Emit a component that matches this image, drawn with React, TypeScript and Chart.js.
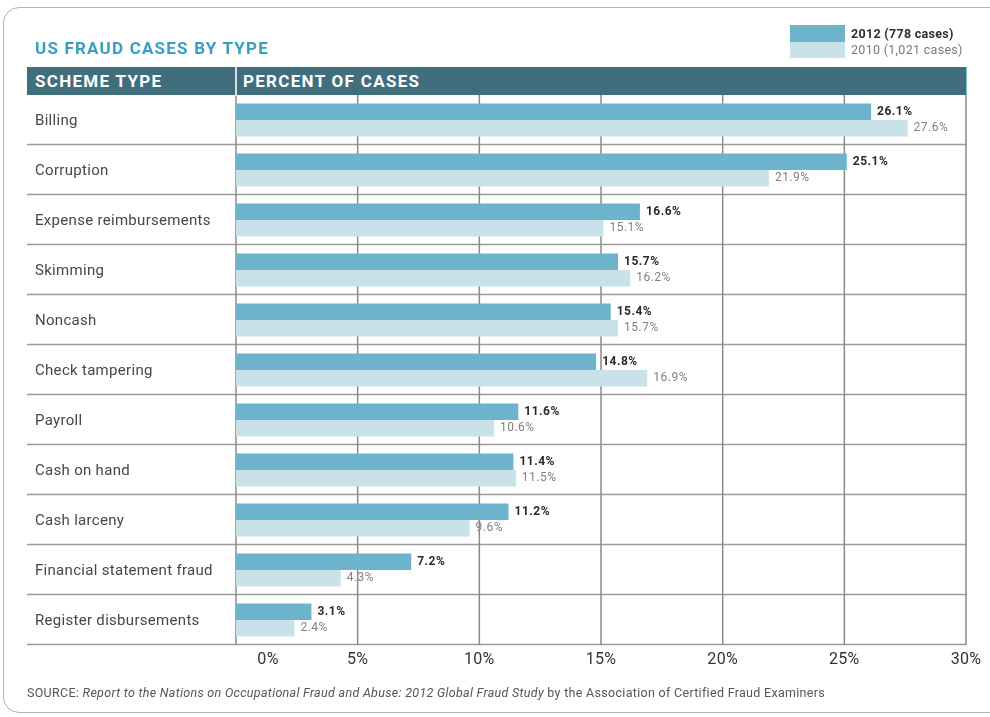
import React, { useEffect, useRef } from "react";
import { Chart, registerables } from "chart.js";

Chart.register(...registerables);

const categories = [
  "Billing",
  "Corruption",
  "Expense reimbursements",
  "Skimming",
  "Noncash",
  "Check tampering",
  "Payroll",
  "Cash on hand",
  "Cash larceny",
  "Financial statement fraud",
  "Register disbursements",
];
const values2012 = [26.1, 25.1, 16.6, 15.7, 15.4, 14.8, 11.6, 11.4, 11.2, 7.2, 3.1];
const values2010 = [27.6, 21.9, 15.1, 16.2, 15.7, 16.9, 10.6, 11.5, 9.6, 4.3, 2.4];
const xTicks = [0, 5, 10, 15, 20, 25, 30];
const label2012 = "2012 (778 cases)";
const label2010 = "2010 (1,021 cases)";

const FONT = "Roboto, 'DejaVu Sans', sans-serif";
const C2012 = "#6db3cc";
const C2010 = "#c9e2ea";
const HEADER = "#416e7d";

const drawPlugin = {
  id: "customDraw",
  beforeDatasetsDraw(chart: any) {
    const { ctx, chartArea } = chart;
    const xs = chart.scales.x;
    const ys = chart.scales.y;
    ctx.save();
    // value labels (drawn below the grid lines)
    ctx.textBaseline = "middle";
    ctx.textAlign = "left";
    const metas = [chart.getDatasetMeta(0), chart.getDatasetMeta(1)];
    metas.forEach((meta: any, di: number) => {
      ctx.font = di === 0 ? `bold 12px ${FONT}` : `12px ${FONT}`;
      ctx.fillStyle = di === 0 ? "#2a2a2a" : "#808080";
      (ctx as any).letterSpacing = "0.5px";
      meta.data.forEach((bar: any, i: number) => {
        const v = di === 0 ? values2012[i] : values2010[i];
        ctx.fillText(v.toFixed(1) + "%", bar.x + 6, bar.y);
      });
    });
    // horizontal row separators
    ctx.strokeStyle = "#9a9a9a";
    ctx.lineWidth = 1.3;
    const step = (chartArea.bottom - chartArea.top) / categories.length;
    for (let i = 1; i <= categories.length; i++) {
      const y = Math.round(chartArea.top + step * i) - 0.5;
      ctx.beginPath();
      ctx.moveTo(27, y);
      ctx.lineTo(chartArea.right, y);
      ctx.stroke();
    }
    // vertical grid lines
    ctx.strokeStyle = "#8a8a8a";
    ctx.lineWidth = 1.5;
    xTicks.forEach((t) => {
      const x = xs.getPixelForValue(t);
      ctx.beginPath();
      ctx.moveTo(x, chartArea.top - 1);
      ctx.lineTo(x, chartArea.bottom);
      ctx.stroke();
    });
    // category labels
    ctx.font = `15px ${FONT}`;
    ctx.fillStyle = "#474747";
    (ctx as any).letterSpacing = "0.3px";
    ctx.textAlign = "left";
    categories.forEach((c, i) => {
      ctx.fillText(c, 35, ys.getPixelForValue(i) + 1);
    });
    // x tick labels
    ctx.font = `16px ${FONT}`;
    ctx.fillStyle = "#333333";
    (ctx as any).letterSpacing = "0.3px";
    ctx.textAlign = "center";
    xTicks.forEach((t) => {
      const x = xs.getPixelForValue(t) + (t === 0 ? 32 : 0);
      ctx.fillText(t + "%", x, chartArea.bottom + 15);
    });
    ctx.restore();
  },
};

export default function App() {
  const ref = useRef<HTMLCanvasElement>(null);
  useEffect(() => {
    document.body.style.margin = "0";
    document.body.style.overflow = "hidden";
    const chart = new Chart(ref.current as HTMLCanvasElement, {
      type: "bar",
      data: {
        labels: categories,
        datasets: [
          {
            label: label2012,
            data: values2012,
            backgroundColor: C2012,
            categoryPercentage: 0.66,
            barPercentage: 1,
          },
          {
            label: label2010,
            data: values2010,
            backgroundColor: C2010,
            categoryPercentage: 0.66,
            barPercentage: 1,
          },
        ],
      },
      options: {
        indexAxis: "y",
        responsive: false,
        animation: false,
        devicePixelRatio: 1,
        layout: { padding: { left: 236, right: 24, top: 95, bottom: 72 } },
        scales: {
          x: { display: false, min: 0, max: 30 },
          y: { display: false },
        },
        plugins: { legend: { display: false }, tooltip: { enabled: false } },
      },
      plugins: [drawPlugin],
    } as any);
    return () => chart.destroy();
  }, []);

  const abs = (s: React.CSSProperties): React.CSSProperties => ({ position: "absolute", ...s });

  return (
    <div
      style={{
        position: "fixed",
        left: 0,
        top: 0,
        width: 990,
        height: 717,
        overflow: "hidden",
        background: "#ffffff",
        fontFamily: FONT,
      }}
    >
      <div
        style={abs({
          left: 3,
          top: 7,
          width: 1010,
          height: 704,
          border: "1.5px solid #b3b3b3",
          borderRadius: 16,
        })}
      />
      <canvas ref={ref} width={990} height={717} style={abs({ left: 0, top: 0, width: 990, height: 717 })} />
      <div
        style={abs({
          left: 35,
          top: 38,
          fontSize: 17,
          fontWeight: 700,
          letterSpacing: "1.2px",
          color: "#3a9ec0",
          lineHeight: "20px",
          whiteSpace: "nowrap",
        })}
      >
        US FRAUD CASES BY TYPE
      </div>
      <div style={abs({ left: 27, top: 67, width: 939, height: 28, background: HEADER })} />
      <div style={abs({ left: 235, top: 67, width: 1.5, height: 29, background: "#d5e0e4" })} />
      <div style={abs({ left: 966, top: 67, width: 1, height: 28, background: "#7cc3dc" })} />
      <div
        style={abs({
          left: 35,
          top: 67,
          lineHeight: "28px",
          fontSize: 17,
          fontWeight: 700,
          color: "#ffffff",
          letterSpacing: "1.3px",
          whiteSpace: "nowrap",
        })}
      >
        SCHEME TYPE
      </div>
      <div
        style={abs({
          left: 243,
          top: 67,
          lineHeight: "28px",
          fontSize: 17,
          fontWeight: 700,
          color: "#ffffff",
          letterSpacing: "1.3px",
          whiteSpace: "nowrap",
        })}
      >
        PERCENT OF CASES
      </div>
      <div style={abs({ left: 790, top: 25, width: 55, height: 17, background: C2012 })} />
      <div style={abs({ left: 790, top: 42, width: 55, height: 16, background: C2010 })} />
      <div
        style={abs({
          left: 851,
          top: 25,
          lineHeight: "17px",
          fontSize: 12.5,
          fontWeight: 700,
          color: "#2e2e2e",
          letterSpacing: "0.3px",
          whiteSpace: "nowrap",
        })}
      >
        {label2012}
      </div>
      <div
        style={abs({
          left: 851,
          top: 42,
          lineHeight: "16px",
          fontSize: 12.5,
          color: "#7a7a7a",
          letterSpacing: "0.3px",
          whiteSpace: "nowrap",
        })}
      >
        {label2010}
      </div>
      <div
        style={abs({
          left: 27,
          top: 685,
          lineHeight: "16px",
          fontSize: 12.5,
          color: "#555555",
          letterSpacing: "0.3px",
          whiteSpace: "nowrap",
        })}
      >
        SOURCE: <i>Report to the Nations on Occupational Fraud and Abuse: 2012 Global Fraud Study</i> by the
        Association of Certified Fraud Examiners
      </div>
    </div>
  );
}
